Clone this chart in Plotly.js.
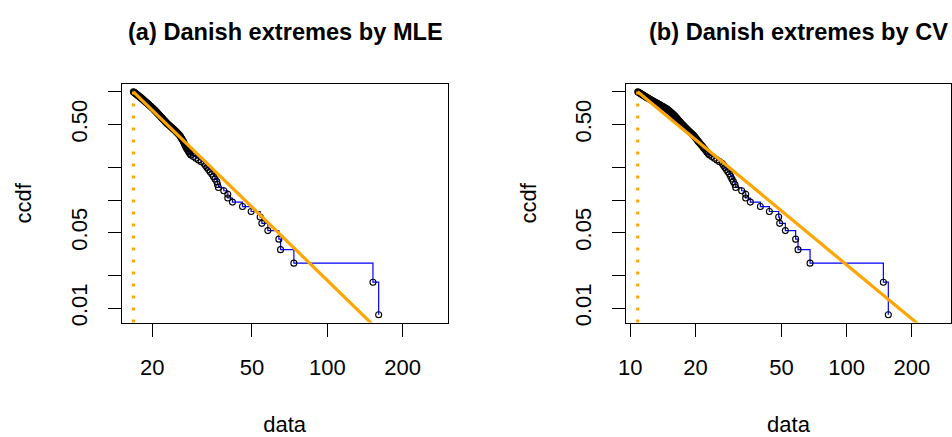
<!DOCTYPE html>
<html>
<head>
<meta charset="utf-8">
<script src="https://cdn.plot.ly/plotly-3.0.1.min.js"></script>
<style>
  html, body { margin: 0; padding: 0; background: #ffffff; }
  #chart { width: 952px; height: 437px; }
</style>
</head>
<body>
<div id="chart"></div>
<script>
// Tail of the Danish fire-insurance losses above the MLE threshold (ascending)
const lossesMLE = [
  16.80, 16.88, 16.96, 17.05, 17.13, 17.21, 17.30, 17.39, 17.47, 17.56,
  17.65, 17.74, 17.84, 17.93, 18.03, 18.12, 18.22, 18.31, 18.40, 18.49,
  18.58, 18.68, 18.78, 18.88, 18.98, 19.08, 19.19, 19.30, 19.40, 19.51,
  19.63, 19.73, 19.85, 19.96, 20.08, 20.21, 20.31, 20.42, 20.52, 20.63,
  20.74, 20.86, 20.97, 21.09, 21.21, 21.34, 21.46, 21.58, 21.71, 21.83,
  21.97, 22.10, 22.24, 22.38, 22.52, 22.67, 22.84, 23.03, 23.23, 23.43,
  23.64, 23.85, 24.06, 24.29, 24.52, 24.75, 24.95, 25.16, 25.37, 25.60,
  25.82, 25.96, 26.11, 26.27, 26.43, 26.61, 26.74, 26.87, 27.01, 27.15,
  27.31, 27.53, 27.76, 27.99, 28.23, 28.50, 29.16, 29.84, 30.57, 31.34,
  32.18, 32.61, 33.05, 33.53, 34.03, 34.57, 35.07, 35.60, 36.18, 36.41,
  36.74, 38.59, 40.04, 40.04, 41.79, 45.83, 49.64, 53.93, 54.76, 57.87,
  64.05, 65.04, 73.53, 152.2, 160.4
];

// Tail of the same losses above the cross-validated threshold (ascending)
const lossesCV = [
  10.82, 10.90, 10.98, 11.05, 11.13, 11.21, 11.29, 11.38, 11.46, 11.55,
  11.63, 11.73, 11.82, 11.91, 12.00, 12.10, 12.21, 12.32, 12.44, 12.55,
  12.67, 12.79, 12.91, 13.04, 13.17, 13.30, 13.43, 13.57, 13.70, 13.84,
  13.99, 14.13, 14.28, 14.43, 14.58, 14.74, 14.85, 14.96, 15.07, 15.18,
  15.30, 15.42, 15.54, 15.66, 15.79, 15.92, 16.02, 16.12, 16.23, 16.33,
  16.44, 16.55, 16.66, 16.78, 16.90, 17.01, 17.15, 17.30, 17.45, 17.61,
  17.76, 17.93, 18.09, 18.27, 18.44, 18.63, 18.83, 19.05, 19.26, 19.49,
  19.71, 19.87, 20.04, 20.23, 20.41, 20.61, 20.83, 21.05, 21.29, 21.54,
  21.78, 22.05, 22.32, 22.60, 22.89, 23.21, 23.81, 24.44, 25.11, 25.83,
  26.61, 26.98, 27.37, 27.79, 28.23, 28.71, 29.09, 29.50, 29.94, 30.45,
  30.69, 32.70, 34.13, 34.13, 35.86, 39.90, 43.90, 48.49, 49.01, 52.05,
  58.09, 59.57, 67.69, 147.7, 155.7
];

// Fitted power laws: ccdf(x) = (x / xmin) ^ (-(alpha - 1))
const fitMLE = { xmin: 16.8, alpha: 3.25 };
const fitCV  = { xmin: 10.81, alpha: 2.656 };

const panelTitles = ['(a) Danish extremes by MLE', '(b) Danish extremes by CV'];
const yTickVals = [0.01, 0.02, 0.05, 0.1, 0.2, 0.5, 1];
const yTickText = ['0.01', '', '0.05', '', '', '0.50', ''];
const xTickValsMLE = [20, 50, 100, 200];
const xTickValsCV = [10, 20, 50, 100, 200];

const W = 952, H = 437;
const FONT = 'Liberation Sans, Arial, Helvetica, sans-serif';
const ORANGE = '#FFA500';
const Y_DOMAIN = [0.262, 0.8078];
const X_DOMAINS = [[0.12784, 0.47027], [0.6576, 0.99895]];

// where the labels should sit, in px from the page edges
const PLACE = {
  xTickCenterY: 367.5,   // centre of the x tick labels
  yTickOffset: 42,       // centre of the y tick labels, left of the axis line
  xTitleCenterY: 425,    // centre of "data"
  yTitleOffset: 98       // centre of "ccdf", left of the axis line
};

// empirical complementary cdf of an ascending sample: n/n, (n-1)/n, ..., 1/n
function ccdf(sample) {
  const n = sample.length;
  return sample.map((_, k) => (n - k) / n);
}

function panelTraces(sample, fit, xa, ya) {
  const p = ccdf(sample);
  const xEnd = 2000;
  return [
    { x: sample, y: p, xaxis: xa, yaxis: ya, type: 'scatter', mode: 'lines',
      line: { shape: 'hv', color: '#0000FF', width: 1.2 }, hoverinfo: 'skip' },
    { x: sample, y: p, xaxis: xa, yaxis: ya, type: 'scatter', mode: 'markers',
      marker: { symbol: 'circle-open', size: 6, color: '#000000', line: { width: 1.1 } } },
    { x: [fit.xmin, xEnd], y: [1, Math.pow(xEnd / fit.xmin, -(fit.alpha - 1))],
      xaxis: xa, yaxis: ya, type: 'scatter', mode: 'lines',
      line: { color: ORANGE, width: 3.2 } }
  ];
}

const traces = [
  ...panelTraces(lossesMLE, fitMLE, 'x', 'y'),
  ...panelTraces(lossesCV, fitCV, 'x2', 'y2')
];

const tickFont = { family: FONT, size: 22, color: '#000' };

function xAxis(domain, range, tickvals, anchor) {
  return {
    type: 'log', domain: domain, range: range, anchor: anchor,
    tickmode: 'array', tickvals: tickvals, ticktext: tickvals.map(String),
    ticks: 'outside', ticklen: 13, tickwidth: 1, tickcolor: '#000',
    ticklabelstandoff: 18,
    showline: true, mirror: true, linecolor: '#000', linewidth: 1,
    showgrid: false, zeroline: false,
    tickfont: tickFont,
    title: { text: 'data', font: tickFont, standoff: 40 }
  };
}

function yAxis(anchor) {
  return {
    type: 'log', domain: Y_DOMAIN, range: [-2.132, 0.072], anchor: anchor,
    tickmode: 'array', tickvals: yTickVals, ticktext: yTickText,
    ticks: 'outside', ticklen: 13, tickwidth: 1, tickcolor: '#000',
    tickangle: -90, ticklabelstandoff: 18,
    showline: true, mirror: true, linecolor: '#000', linewidth: 1,
    showgrid: false, zeroline: false,
    tickfont: tickFont,
    title: { text: 'ccdf', font: tickFont, standoff: 20 }
  };
}

// panel titles: centre x in px
const titleCentersX = [285.8, 798.5];

const layout = {
  width: W, height: H,
  margin: { l: 0, r: 0, t: 0, b: 0 },
  paper_bgcolor: '#ffffff', plot_bgcolor: '#ffffff',
  showlegend: false,
  xaxis: xAxis(X_DOMAINS[0], [1.1786, 2.481], xTickValsMLE, 'y'),
  yaxis: yAxis('x'),
  xaxis2: xAxis(X_DOMAINS[1], [0.9801, 2.482], xTickValsCV, 'y2'),
  yaxis2: yAxis('x2'),
  shapes: [fitMLE, fitCV].map((f, i) => ({
    type: 'line', xref: i ? 'x2' : 'x', yref: i ? 'y2 domain' : 'y domain',
    x0: f.xmin, x1: f.xmin, y0: 0, y1: 1,
    line: { color: ORANGE, width: 3, dash: '3px,9px' }
  })),
  annotations: panelTitles.map((t, i) => ({
    text: '<b>' + t + '</b>', showarrow: false,
    xref: 'paper', yref: 'paper',
    x: titleCentersX[i] / W, y: 1 - 32 / H, xanchor: 'center', yanchor: 'middle',
    font: { family: FONT, size: 23.6, color: '#000' }
  }))
};

const gd = document.getElementById('chart');

function centre(el) {
  const page = gd.getBoundingClientRect();
  const r = el.getBoundingClientRect();
  return { x: (r.left + r.right) / 2 - page.left, y: (r.top + r.bottom) / 2 - page.top };
}
function firstLabel(sel) {
  return Array.from(gd.querySelectorAll(sel)).find(t => t.textContent.trim() !== '');
}

const axisLeftX = X_DOMAINS[0][0] * W;

Plotly.newPlot(gd, traces, layout, { staticPlot: true, displayModeBar: false })
  .then(() => {
    // settle the tick labels at their distance from the frame
    const xs = layout.xaxis.ticklabelstandoff +
      Math.round(PLACE.xTickCenterY - centre(firstLabel('g.xtick text')).y);
    const ys = layout.yaxis.ticklabelstandoff +
      Math.round(centre(firstLabel('g.ytick text')).x - (axisLeftX - PLACE.yTickOffset));
    return Plotly.relayout(gd, {
      'xaxis.ticklabelstandoff': xs, 'xaxis2.ticklabelstandoff': xs,
      'yaxis.ticklabelstandoff': ys, 'yaxis2.ticklabelstandoff': ys
    });
  })
  .then(() => {
    // then the axis titles
    const xt = Math.max(0, layout.xaxis.title.standoff +
      (PLACE.xTitleCenterY - centre(gd.querySelector('text.xtitle')).y));
    const yt = Math.max(0, layout.yaxis.title.standoff +
      (centre(gd.querySelector('text.ytitle')).x - (axisLeftX - PLACE.yTitleOffset)));
    return Plotly.relayout(gd, {
      'xaxis.title.standoff': xt, 'xaxis2.title.standoff': xt,
      'yaxis.title.standoff': yt, 'yaxis2.title.standoff': yt
    });
  });
</script>
</body>
</html>
